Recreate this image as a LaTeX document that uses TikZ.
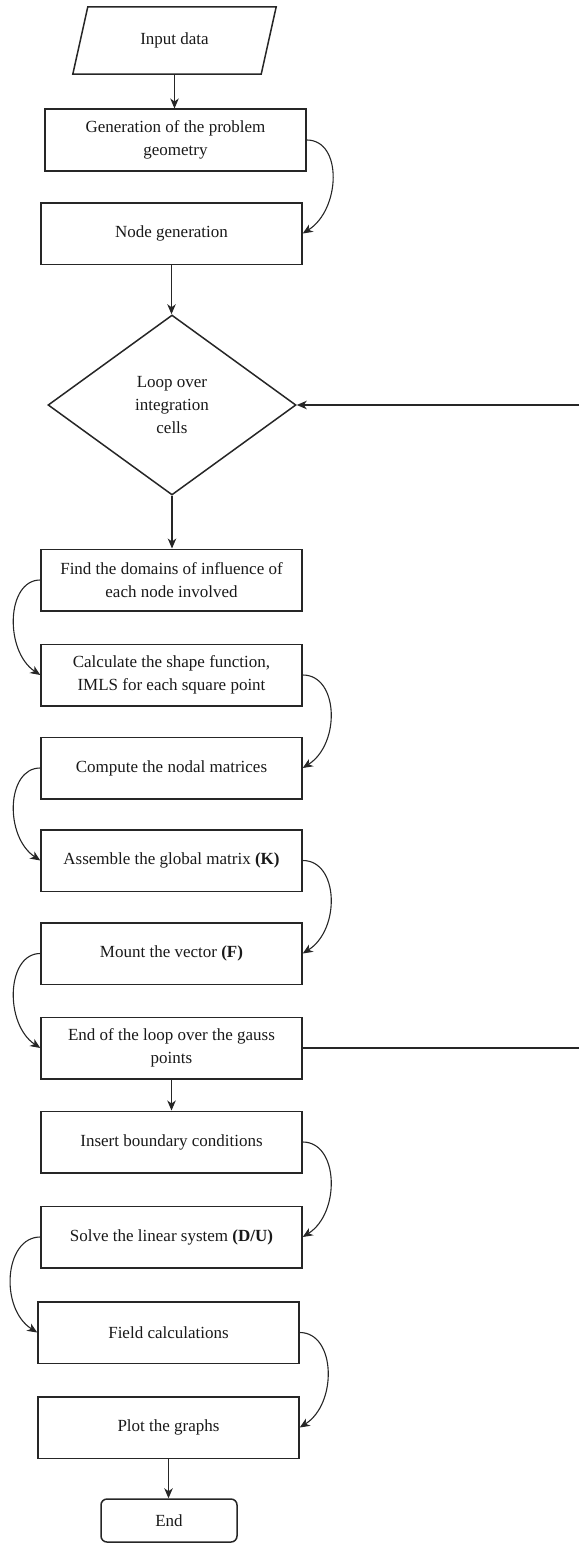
\documentclass[tikz,border=0pt]{standalone}
\usepackage{fontspec}
\setmainfont{Liberation Serif}
\usetikzlibrary{shapes.geometric,arrows.meta,calc}
\begin{document}
\begin{tikzpicture}[x=1pt,y=-1pt,
  every node/.style={font=\fontsize{17}{23}\selectfont, align=center, inner sep=0pt, text=black!90},
  procbox/.style={draw=black!85, line width=1.5pt, minimum width=261pt, minimum height=61.5pt},
  decision/.style={draw=black!85, diamond, line width=1.5pt, aspect=1.378, minimum width=248pt, minimum height=180pt},
  terminal/.style={draw=black!85, rounded corners=6pt, line width=1.5pt, minimum width=136pt, minimum height=43pt},
  link/.style={draw=black!85, line width=1.1pt, -{Stealth[length=10pt,width=8.5pt,inset=3pt]}},
  plainline/.style={draw=black!85, line width=1.1pt}]
\useasboundingbox (0,0) rectangle (579,1544);

% input (parallelogram)
\node[minimum width=203pt, minimum height=67pt] (input) at (174.5,40.5) {Input data};
\draw[draw=black!85, line width=1.5pt] (input.south west) -- ($(input.north west)+(15,0)$) -- (input.north east) -- ($(input.south east)+(-15,0)$) -- cycle;

\node[procbox] (gen) at (175.5,140) {Generation of the problem\\geometry};
\node[procbox] (nodegen) at (171.5,233.5) {Node generation};
\node[decision] (loop) at (172,405) {Loop over\\integration\\cells};
\node[procbox] (find) at (171.5,580) {Find the domains of influence of\\each node involved};
\node[procbox] (shape) at (171.5,675) {Calculate the shape function,\\IMLS for each square point};
\node[procbox] (nodal) at (171.5,768) {Compute the nodal matrices};
\node[procbox] (assem) at (171.5,860.5) {Assemble the global matrix \textbf{(K)}};
\node[procbox] (mount) at (171.5,953.5) {Mount the vector \textbf{(F)}};
\node[procbox] (endloop) at (171.5,1048) {End of the loop over the gauss\\points};
\node[procbox] (bc) at (171.5,1142) {Insert boundary conditions};
\node[procbox] (solve) at (171.5,1237) {Solve the linear system \textbf{(D/U)}};
\node[procbox] (field) at (168.5,1332.5) {Field calculations};
\node[procbox] (plot) at (168.5,1427.5) {Plot the graphs};
\node[terminal] (stop) at (169,1520.5) {End};

\coordinate (rback) at (579,1048);
\coordinate (rin) at (579,405);

% straight connectors
\draw[link] (input.south) -- (input.south |- gen.north);
\draw[link] (nodegen.south) -- (nodegen.south |- loop.north);
\draw[link] (loop.south) -- (loop.south |- find.north);
\draw[link] (endloop.south) -- (endloop.south |- bc.north);
\draw[link] (plot.south) -- (plot.south |- stop.north);

% feedback
\draw[plainline] (endloop.east) -- (rback);
\draw[link] (rin) -- (loop.east);

% curved connectors
\draw[link] (gen.east) .. controls +(36,0) and +(38,-24) .. (nodegen.east);
\draw[link] (find.west) .. controls +(-34,0) and +(-36,-24) .. (shape.west);
\draw[link] (shape.east) .. controls +(36,0) and +(38,-24) .. (nodal.east);
\draw[link] (nodal.west) .. controls +(-34,0) and +(-36,-24) .. (assem.west);
\draw[link] (assem.east) .. controls +(36,0) and +(38,-24) .. (mount.east);
\draw[link] (mount.west) .. controls +(-34,0) and +(-36,-24) .. (endloop.west);
\draw[link] (bc.east) .. controls +(36,0) and +(38,-24) .. (solve.east);
\draw[link] (solve.west) .. controls +(-36,0) and +(-38,-24) .. (field.west);
\draw[link] (field.east) .. controls +(36,0) and +(38,-24) .. (plot.east);
\end{tikzpicture}
\end{document}
